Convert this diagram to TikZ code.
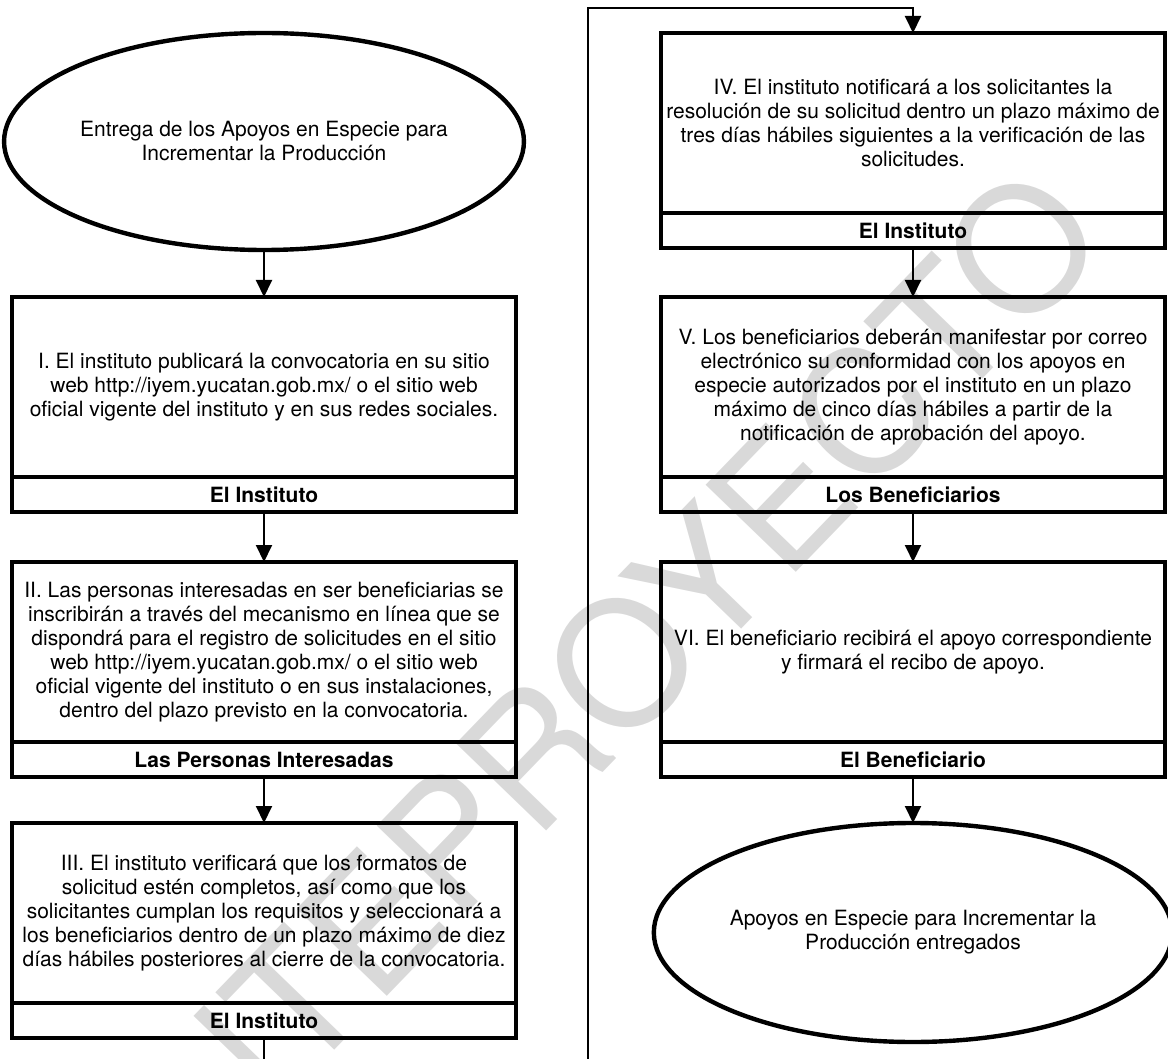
\documentclass[tikz,border=0pt]{standalone}
\usepackage{fontspec}
\setmainfont{TeX Gyre Heros}
\usetikzlibrary{shapes.geometric,arrows.meta}
\tikzstyle{paso} = [rectangle, draw=black, line width=2.2pt, outer sep=0pt, inner sep=0pt, minimum width=252pt, minimum height=90pt, align=center, font=\fontsize{10.5}{12}\selectfont]
\tikzstyle{resp} = [rectangle, draw=black, line width=2.2pt, outer sep=0pt, inner sep=0pt, minimum width=252pt, minimum height=17.5pt, font=\fontsize{10.5}{12}\selectfont\bfseries]
\tikzstyle{extremo} = [ellipse, draw=black, line width=2.2pt, outer sep=0pt, inner sep=0pt, minimum width=255pt, minimum height=108.5pt, align=center, font=\fontsize{10.5}{12}\selectfont]
\tikzstyle{flecha} = [-{Triangle[width=8pt,length=8.5pt]}, line width=1pt]
\tikzstyle{marca} = [text=black!15, rotate=46, font=\fontsize{86}{86}\selectfont]

\begin{document}
\begin{tikzpicture}[x=0.5pt, y=-0.5pt]%
	\useasboundingbox (0,0) rectangle (1168,1059);%
	\clip (0,0) rectangle (1168,1059);%
	\node[marca] (wm) at (580,706) {ANTEPROYECTO};%
	% columna izquierda
	\node[extremo] (e1) at (264,141.5) {Entrega de los Apoyos en Especie para\\Incrementar la Producción};%
	\node[paso, anchor=north] (a1) at (264,297) {I. El instituto publicará la convocatoria en su sitio\\web http://iyem.yucatan.gob.mx/ o el sitio web\\oficial vigente del instituto y en sus redes sociales.};%
	\node[resp, anchor=north] (a1l) at (a1.south) {El Instituto};%
	\node[paso, anchor=north] (a2) at (264,562) {II. Las personas interesadas en ser beneficiarias se\\inscribirán a través del mecanismo en línea que se\\dispondrá para el registro de solicitudes en el sitio\\web http://iyem.yucatan.gob.mx/ o el sitio web\\oficial vigente del instituto o en sus instalaciones,\\dentro del plazo previsto en la convocatoria.};%
	\node[resp, anchor=north] (a2l) at (a2.south) {Las Personas Interesadas};%
	\node[paso, anchor=north] (a3) at (264,823) {III. El instituto verificará que los formatos de\\solicitud estén completos, así como que los\\solicitantes cumplan los requisitos y seleccionará a\\los beneficiarios dentro de un plazo máximo de diez\\días hábiles posteriores al cierre de la convocatoria.};%
	\node[resp, anchor=north] (a3l) at (a3.south) {El Instituto};%
	% columna derecha
	\node[paso, anchor=north] (b1) at (913,33) {IV. El instituto notificará a los solicitantes la\\resolución de su solicitud dentro un plazo máximo de\\tres días hábiles siguientes a la verificación de las\\solicitudes.};%
	\node[resp, anchor=north] (b1l) at (b1.south) {El Instituto};%
	\node[paso, anchor=north] (b2) at (913,297) {V. Los beneficiarios deberán manifestar por correo\\electrónico su conformidad con los apoyos en\\especie autorizados por el instituto en un plazo\\máximo de cinco días hábiles a partir de la\\notificación de aprobación del apoyo.};%
	\node[resp, anchor=north] (b2l) at (b2.south) {Los Beneficiarios};%
	\node[paso, anchor=north] (b3) at (913,562) {VI. El beneficiario recibirá el apoyo correspondiente\\y firmará el recibo de apoyo.};%
	\node[resp, anchor=north] (b3l) at (b3.south) {El Beneficiario};%
	\node[extremo, minimum width=252.5pt, minimum height=109.5pt] (e2) at (913,932.5) {Apoyos en Especie para Incrementar la\\Producción entregados};%
	% conectores
	\coordinate (c1) at (588,1090);%
	\coordinate (c2) at (588,8);%
	\draw[flecha] (e1.south) -- (a1.north);%
	\draw[flecha] (a1l.south) -- (a2.north);%
	\draw[flecha] (a2l.south) -- (a3.north);%
	\draw[flecha] (a3l.south) |- (c1) -- (c2) -| (b1.north);%
	\draw[flecha] (b1l.south) -- (b2.north);%
	\draw[flecha] (b2l.south) -- (b3.north);%
	\draw[flecha] (b3l.south) -- (e2.north);%
\end{tikzpicture}
\end{document}
